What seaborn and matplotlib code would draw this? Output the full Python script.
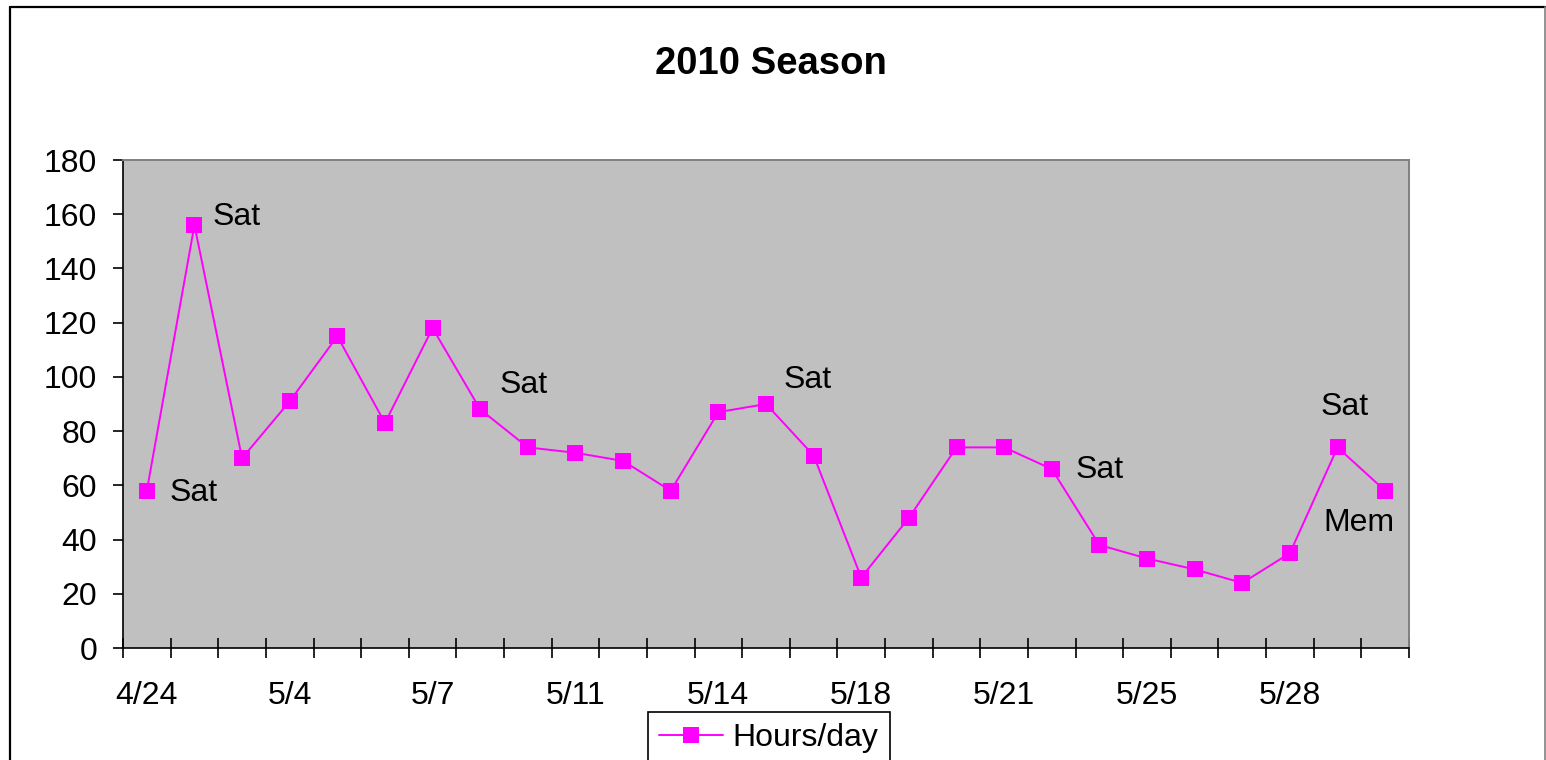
import numpy as np
import pandas as pd
import matplotlib
matplotlib.use("Agg")
import matplotlib.pyplot as plt
from matplotlib.lines import Line2D
import seaborn as sns

# ---- data ----
dates = ["4/24", "5/1", "5/2", "5/4", "5/5", "5/6", "5/7", "5/8", "5/9",
         "5/11", "5/12", "5/13", "5/14", "5/15", "5/16", "5/18", "5/19", "5/20",
         "5/21", "5/22", "5/23", "5/25", "5/26", "5/27", "5/28", "5/29", "5/31"]
hours = [58, 156, 70, 91, 115, 83, 118, 88, 74,
         72, 69, 58, 87, 90, 71, 26, 48, 74,
         74, 66, 38, 33, 29, 24, 35, 74, 58]
note_index = [0, 1, 7, 13, 19, 25, 26]
note_text = ["Sat", "Sat", "Sat", "Sat", "Sat", "Sat", "Mem"]
y_ticks = [0, 20, 40, 60, 80, 100, 120, 140, 160, 180]
title = "2010 Season"
series_name = "Hours/day"

sns.set_style("white")
plt.rcParams["font.family"] = ["Liberation Sans", "DejaVu Sans"]
plt.rcParams["text.color"] = "black"
plt.rcParams["axes.labelcolor"] = "black"

W, H = 1546, 760
fig = plt.figure(figsize=(W / 100, H / 100), dpi=100)
fig.patch.set_facecolor("white")

left, right, top, bottom = 123, 1409, 160, 648
ax = fig.add_axes([left / W, 1 - bottom / H, (right - left) / W, (bottom - top) / H])
ax.set_facecolor("#C0C0C0")

df = pd.DataFrame({"pos": np.arange(len(dates)), "hours": hours, "date": dates})
sns.lineplot(data=df, x="pos", y="hours", ax=ax, color="#FF00FF", marker="s",
             markersize=11.5, markeredgecolor="#FF00FF", markeredgewidth=0,
             linewidth=1.4, label=series_name, legend=False)

ax.set_xlim(-0.5, len(dates) - 0.5)
ax.set_ylim(y_ticks[0], y_ticks[-1])
ax.set_yticks(y_ticks)
ax.set_xticks(np.arange(0, len(dates), 3))
ax.set_xticklabels([dates[i] for i in range(0, len(dates), 3)])
ax.set_xticks(np.arange(-0.5, len(dates), 1), minor=True)
ax.set_xlabel("")
ax.set_ylabel("")

ax.tick_params(axis="x", which="both", bottom=True, top=False)
ax.tick_params(axis="y", which="both", left=True, right=False)
ax.tick_params(axis="x", which="major", length=0, pad=24, labelsize=23, labelcolor="black")
ax.tick_params(axis="x", which="minor", length=14, direction="inout", width=1.2, color="black")
ax.tick_params(axis="y", which="major", length=7.5, direction="out", width=1.2,
               color="black", pad=11, labelsize=23, labelcolor="black")
ax.grid(False)

for side in ["left", "bottom"]:
    ax.spines[side].set_color("black")
    ax.spines[side].set_linewidth(1.2)
for side in ["top", "right"]:
    ax.spines[side].set_color("#808080")
    ax.spines[side].set_linewidth(1.4)
for s in ax.spines.values():
    s.set_visible(True)

# annotations (offsets in pixels)
offsets = [(23, -2, "left"), (18, 8, "left"), (19, 24, "left"), (18, 24, "left"),
           (24, -1, "left"), (7, 40, "center"), (-26, -32, "center")]
for idx, txt, (dx, dy, ha) in zip(note_index, note_text, offsets):
    ax.annotate(txt, xy=(df["pos"][idx], df["hours"][idx]), xytext=(dx, dy),
                textcoords="offset pixels", ha=ha, va="center", fontsize=23, color="black")

fig.text(771 / W, 1 - 64 / H, title, ha="center", va="center",
         fontsize=27.5, fontweight="bold", color="black")

leg = ax.legend(loc="upper center", bbox_to_anchor=(769 / W, 1 - 712 / H),
                bbox_transform=fig.transFigure, frameon=True, fancybox=False,
                fontsize=23, handlelength=2.0, borderpad=0.35, handletextpad=0.3,
                borderaxespad=0)
for t in leg.get_texts():
    t.set_color("black")
leg.get_frame().set_edgecolor("black")
leg.get_frame().set_linewidth(1.2)
leg.get_frame().set_facecolor("white")
leg.get_frame().set_alpha(1)

# outer chart border
fig.add_artist(Line2D([10 / W, 10 / W], [-0.1, 1 - 7 / H], transform=fig.transFigure,
                      color="black", lw=1.6))
fig.add_artist(Line2D([10 / W, 1544.5 / W], [1 - 7 / H, 1 - 7 / H], transform=fig.transFigure,
                      color="black", lw=1.6))
fig.add_artist(Line2D([1544.5 / W, 1544.5 / W], [-0.1, 1 - 7 / H], transform=fig.transFigure,
                      color="#808080", lw=1.2))

fig.savefig("out.png", dpi=100, facecolor="white")
